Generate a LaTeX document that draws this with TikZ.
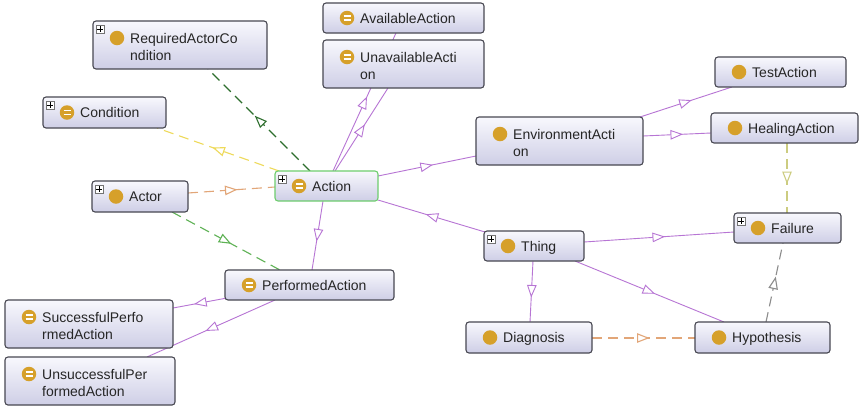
\documentclass[tikz,border=0pt]{standalone}
\usepackage{fontspec}
\setmainfont{Liberation Sans}
\usetikzlibrary{arrows.meta,decorations.markings,calc}

\definecolor{boxedge}{RGB}{72,72,82}
\definecolor{boxtop}{RGB}{248,248,253}
\definecolor{boxbottom}{RGB}{206,206,230}
\definecolor{focusgreen}{RGB}{110,205,110}
\definecolor{gold}{RGB}{214,160,42}
\definecolor{subcol}{RGB}{183,117,212}
\definecolor{darkgreen}{RGB}{45,110,45}
\definecolor{lightgreen}{RGB}{95,178,85}
\definecolor{yellowarc}{RGB}{238,218,90}
\definecolor{orangearc}{RGB}{226,166,120}
\definecolor{olivearc}{RGB}{204,204,128}
\definecolor{grayarc}{RGB}{140,140,140}

% paper below the arcs, arcs below the class boxes
\pgfdeclarelayer{paper}
\pgfdeclarelayer{arcs}
\pgfsetlayers{paper,arcs,main}

\tikzset{
  classbox/.style={draw=boxedge, line width=1.1pt, rounded corners=3pt,
    top color=boxtop, bottom color=boxbottom, inner sep=0pt, outer sep=0pt},
  focusbox/.style={classbox, draw=focusgreen},
  classlabel/.style={anchor=base west, inner sep=0pt,
    font=\fontsize{14}{17}\selectfont, text=black!85},
  ball/.style={circle, fill=gold, minimum size=14.5pt, inner sep=0pt},
  equivball/.style={ball, path picture={
    \draw[white, line width=1.3pt]
      ([shift={(-3.5pt,1.9pt)}]path picture bounding box.center) -- ++(7pt,0pt)
      ([shift={(-3.5pt,-1.9pt)}]path picture bounding box.center) -- ++(7pt,0pt);}},
  expander/.style={draw=black!55, fill=white, minimum size=8pt, inner sep=0pt,
    path picture={
      \draw[black, line width=0.9pt]
        ([xshift=-2.6pt]path picture bounding box.center) -- ++(5.2pt,0pt)
        ([yshift=-2.6pt]path picture bounding box.center) -- ++(0pt,5.2pt);}},
  midtip/.style={postaction={decorate}, decoration={markings,
    mark=at position 0.5 with {\arrow[xshift=6pt]{Triangle[length=12.5pt,width=9.5pt,fill=white]}}}},
  subarc/.style={draw=subcol, line width=0.9pt, midtip},
  proparc/.style={line width=1.1pt, dash pattern=on 10pt off 6pt, midtip},
}

% class box from its left, top, right and bottom edges
\newcommand\classnode[6]{%
  \node[#1, minimum width={(#5-#3)*1pt}, minimum height={(#6-#4)*1pt}]
    (#2) at ({(#3+#5)/2},{(#4+#6)/2}) {};}
% one-line label with its icon
\newcommand\oneline[3]{%
  \node[#2] (#1-icon) at ([xshift=24pt]#1.west) {};
  \node[classlabel] (#1-text) at ([shift={(37,5)}]#1.west) {#3};}
% two-line label with its icon
\newcommand\twolines[4]{%
  \node[#2] (#1-icon) at ([shift={(24,17)}]#1.north west) {};
  \node[classlabel] (#1-texta) at ([shift={(37,22)}]#1.north west) {#3};
  \node[classlabel] (#1-textb) at ([shift={(37,39)}]#1.north west) {#4};}
% expand marker in the top left corner
\newcommand\expandmark[1]{%
  \node[expander] (#1-plus) at ([shift={(7,8)}]#1.north west) {};}

\begin{document}
\begin{tikzpicture}[x=1pt, y=-1pt]
\useasboundingbox (0,0) rectangle (859,408);
\begin{pgfonlayer}{paper}
\fill[white] (0,0) rectangle (859,408);
\end{pgfonlayer}

% class boxes
\classnode{classbox}{rac}{93}{21}{267}{69}
\classnode{classbox}{cond}{43}{97}{166}{128}
\classnode{classbox}{avail}{323}{3}{484}{33}
\classnode{classbox}{unavail}{323}{40}{484}{88}
\classnode{classbox}{test}{715}{57}{846}{87}
\classnode{classbox}{heal}{711}{113}{858}{143}
\classnode{classbox}{env}{476}{117}{643}{165}
\classnode{classbox}{actor}{92}{181}{188}{212}
\classnode{focusbox}{action}{275}{171}{378}{201}
\classnode{classbox}{perf}{225}{270}{394}{300}
\classnode{classbox}{succ}{5}{300}{173}{348}
\classnode{classbox}{unsucc}{5}{357}{175}{405}
\classnode{classbox}{thing}{484}{231}{584}{261}
\classnode{classbox}{failure}{734}{213}{841}{243}
\classnode{classbox}{diag}{466}{322}{592}{353}
\classnode{classbox}{hyp}{695}{322}{830}{353}

% labels and icons
\twolines{rac}{ball}{RequiredActorCo}{ndition}
\expandmark{rac}
\oneline{cond}{equivball}{Condition}
\expandmark{cond}
\oneline{avail}{equivball}{AvailableAction}
\twolines{unavail}{equivball}{UnavailableActi}{on}
\oneline{test}{ball}{TestAction}
\oneline{heal}{ball}{HealingAction}
\twolines{env}{ball}{EnvironmentActi}{on}
\oneline{actor}{ball}{Actor}
\expandmark{actor}
\oneline{action}{equivball}{Action}
\expandmark{action}
\oneline{perf}{equivball}{PerformedAction}
\twolines{succ}{equivball}{SuccessfulPerfo}{rmedAction}
\twolines{unsucc}{equivball}{UnsuccessfulPer}{formedAction}
\oneline{thing}{ball}{Thing}
\expandmark{thing}
\oneline{failure}{ball}{Failure}
\expandmark{failure}
\oneline{diag}{ball}{Diagnosis}
\oneline{hyp}{ball}{Hypothesis}

% arcs, drawn beneath the boxes
\begin{pgfonlayer}{arcs}
% object properties (dashed)
\draw[proparc, draw=darkgreen] ([shift={(35,0)}]action.north west) -- ([shift={(115,48)}]rac.north west);
\draw[proparc, draw=yellowarc] ([shift={(4,0)}]action.north west) -- ([shift={(114,31)}]cond.north west);
\draw[proparc, draw=orangearc] ([shift={(96,12)}]actor.north west) -- ([shift={(0,16)}]action.north west);
\draw[proparc, draw=lightgreen] ([shift={(80,31)}]actor.north west) -- ([shift={(55,0)}]perf.north west);
\draw[proparc, draw=olivearc] ([shift={(76,30)}]heal.north west) -- ([shift={(53,0)}]failure.north west);
\draw[proparc, draw=grayarc] ([shift={(71,0)}]hyp.north west) -- ([shift={(49,30)}]failure.north west);
\draw[proparc, draw=orangearc] ([shift={(126,16)}]diag.north west) -- ([shift={(0,16)}]hyp.north west);
% subclass links (solid)
\draw[subarc] ([shift={(48,30)}]action.north west) -- ([shift={(87,0)}]perf.north west);
\draw[subarc] ([shift={(58,0)}]action.north west) -- ([shift={(73,30)}]avail.north west);
\draw[subarc] ([shift={(60,0)}]action.north west) -- ([shift={(65,48)}]unavail.north west);
\draw[subarc] ([shift={(103,5)}]action.north west) -- ([shift={(0,39)}]env.north west);
\draw[subarc] ([shift={(1,1)}]thing.north west) -- ([shift={(103,29)}]action.north west);
\draw[subarc] ([shift={(164,0)}]env.north west) -- ([shift={(17,30)}]test.north west);
\draw[subarc] ([shift={(167,19)}]env.north west) -- ([shift={(0,20)}]heal.north west);
\draw[subarc] ([shift={(100,11)}]thing.north west) -- ([shift={(0,19)}]failure.north west);
\draw[subarc] ([shift={(49,30)}]thing.north west) -- ([shift={(64,0)}]diag.north west);
\draw[subarc] ([shift={(91,30)}]thing.north west) -- ([shift={(29,0)}]hyp.north west);
\draw[subarc] ([shift={(2,28)}]perf.north west) -- ([shift={(168,8)}]succ.north west);
\draw[subarc] ([shift={(50,30)}]perf.north west) -- ([shift={(142,0)}]unsucc.north west);
\end{pgfonlayer}
\end{tikzpicture}
\end{document}
